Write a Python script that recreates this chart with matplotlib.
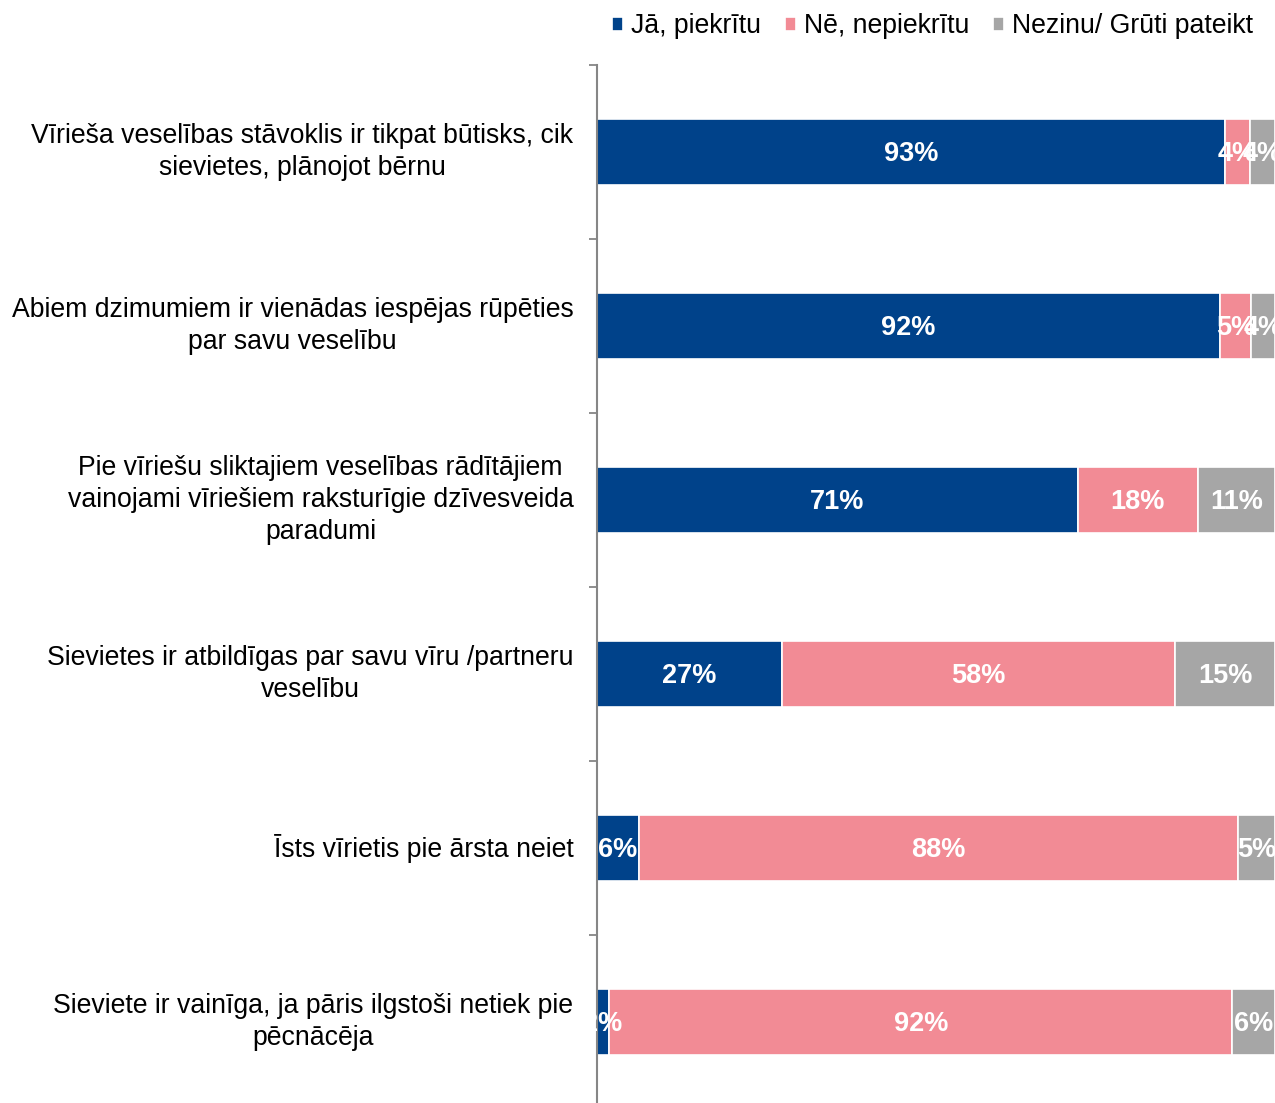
import matplotlib
matplotlib.use("Agg")
import matplotlib.pyplot as plt
import numpy as np

plt.rcParams['font.family'] = ['Liberation Sans', 'DejaVu Sans']

categories = [
    "Vīrieša veselības stāvoklis ir tikpat būtisks, cik\nsievietes, plānojot bērnu",
    "Abiem dzimumiem ir vienādas iespējas rūpēties\npar savu veselību",
    "Pie vīriešu sliktajiem veselības rādītājiem\nvainojami vīriešiem raksturīgie dzīvesveida\nparadumi",
    "Sievietes ir atbildīgas par savu vīru /partneru\nveselību",
    "Īsts vīrietis pie ārsta neiet",
    "Sieviete ir vainīga, ja pāris ilgstoši netiek pie\npēcnācēja",
]
series_names = ["Jā, piekrītu", "Nē, nepiekrītu", "Nezinu/ Grūti pateikt"]
yes_vals = [92.6, 91.9, 70.9, 27.3, 6.2, 1.8]
no_vals = [3.7, 4.6, 17.7, 58.0, 88.4, 91.9]
dk_vals = [3.7, 3.5, 11.4, 14.7, 5.4, 6.3]
colors = ["#00428A", "#F28B95", "#A6A6A6"]

W, H = 1275, 1103
fig = plt.figure(figsize=(W / 100, H / 100), dpi=100)
left = 597 / W
top = 1 - 65 / H
bottom = 1 - 1109 / H
ax = fig.add_axes([left, bottom, 1 - left, top - bottom])

y = np.arange(len(categories))
start = np.zeros(len(categories))
for name, vals, c in zip(series_names, [yes_vals, no_vals, dk_vals], colors):
    vals = np.array(vals)
    ax.barh(y, vals, left=start, height=0.385, color=c, edgecolor="white",
            linewidth=1.2, label=name)
    for yi, s, v in zip(y, start, vals):
        ax.text(s + v / 2, yi + 0.01, f"{v:.0f}%", ha="center", va="center",
                color="white", fontsize=19.5, fontweight="bold", clip_on=False)
    start = start + vals

ax.set_xlim(0, 100)
ax.set_ylim(len(categories) - 0.5, -0.5)
ax.set_xticks([])
ax.set_yticks(y)
ax.set_yticklabels(categories, fontsize=19.2)
for t in ax.get_yticklabels():
    t.set_multialignment("center")
    t.set_linespacing(1.32)
    t.set_va("center")
ax.tick_params(axis="y", which="major", length=0, pad=17)
ax.set_yticks(np.arange(-0.5, len(categories), 1.0), minor=True)
ax.tick_params(axis="y", which="minor", length=6, width=1.3, color="#868686")
for s in ["top", "right", "bottom"]:
    ax.spines[s].set_visible(False)
ax.spines["left"].set_color("#868686")
ax.spines["left"].set_linewidth(1.5)

handles, labels = ax.get_legend_handles_labels()
fig.legend(handles, labels, loc="upper right", bbox_to_anchor=(0.993, 1.0), ncol=3,
           frameon=False, fontsize=19.2, handlelength=0.4, handleheight=0.4,
           handletextpad=0.3, columnspacing=0.9, borderaxespad=0.1)

fig.savefig("out.png", dpi=100)
